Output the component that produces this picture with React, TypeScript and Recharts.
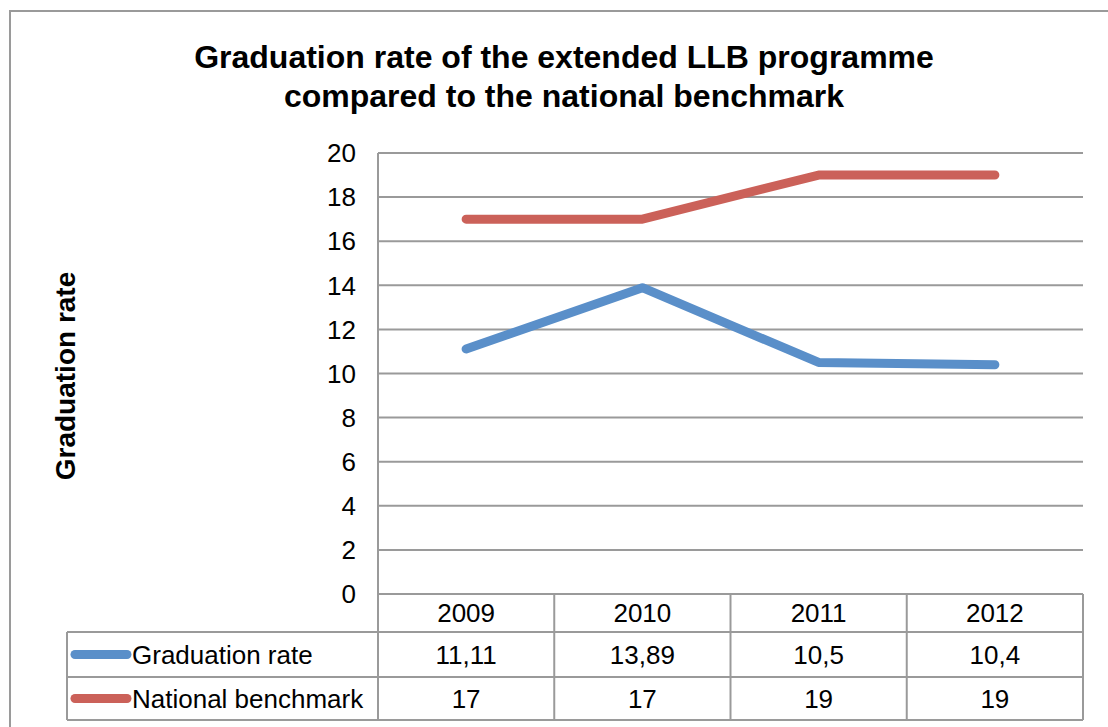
import { LineChart, Line, XAxis, YAxis, CartesianGrid, Customized } from 'recharts';

// values
const YEARS = ['2009', '2010', '2011', '2012'];
const GRADUATION_RATE = [11.11, 13.89, 10.5, 10.4];
const NATIONAL_BENCHMARK = [17, 17, 19, 19];
const GRADUATION_LABELS = ['11,11', '13,89', '10,5', '10,4'];
const BENCHMARK_LABELS = ['17', '17', '19', '19'];
const Y_TICKS = [0, 2, 4, 6, 8, 10, 12, 14, 16, 18, 20];

const SERIES = [
  { key: 'graduation', name: 'Graduation rate', color: '#5A8FC9', labels: GRADUATION_LABELS },
  { key: 'benchmark', name: 'National benchmark', color: '#CB6159', labels: BENCHMARK_LABELS },
];

const data = YEARS.map((year, i) => ({
  year,
  graduation: GRADUATION_RATE[i],
  benchmark: NATIONAL_BENCHMARK[i],
}));

// layout
const W = 1108;
const H = 727;
const PLOT_LEFT = 378;
const PLOT_RIGHT = 1083;
const PLOT_TOP = 153;
const PLOT_BOTTOM = 594;
const ROW1 = 632;
const ROW2 = 677;
const TABLE_BOTTOM = 720;
const TABLE_LEFT = 67;
const GRID = '#9A9A9A';
const FONT = 'Liberation Sans, Arial, sans-serif';
const FS = 26;
const BAND = (PLOT_RIGHT - PLOT_LEFT) / YEARS.length;

const TableTick = (props: any) => {
  const { x, payload, index } = props;
  const right = x + BAND / 2;
  return (
    <g>
      <text x={x} y={613} textAnchor="middle" dominantBaseline="central" fontSize={FS} fontFamily={FONT} fill="#000">
        {payload.value}
      </text>
      {SERIES.map((s, r) => (
        <text
          key={s.key}
          x={x}
          y={r === 0 ? (ROW1 + ROW2) / 2 : (ROW2 + TABLE_BOTTOM) / 2}
          textAnchor="middle"
          dominantBaseline="central"
          fontSize={FS}
          fontFamily={FONT}
          fill="#000"
        >
          {s.labels[index]}
        </text>
      ))}
      <line x1={right} y1={PLOT_BOTTOM} x2={right} y2={TABLE_BOTTOM} stroke={GRID} strokeWidth={2} />
    </g>
  );
};

const Frame = () => (
  <g>
    <rect x={10} y={11} width={W} height={H} fill="none" stroke={GRID} strokeWidth={2} />
    <text x={564} y={68} textAnchor="middle" fontSize={32} fontWeight="bold" fontFamily={FONT} fill="#000">
      Graduation rate of the extended LLB programme
    </text>
    <text x={564} y={107} textAnchor="middle" fontSize={32} fontWeight="bold" fontFamily={FONT} fill="#000">
      compared to the national benchmark
    </text>
    <text
      x={65}
      y={376}
      transform="rotate(-90 65 376)"
      textAnchor="middle"
      dominantBaseline="central"
      fontSize={28}
      fontWeight="bold"
      fontFamily={FONT}
      fill="#000"
    >
      Graduation rate
    </text>
    {/* data table frame */}
    <line x1={PLOT_LEFT} y1={PLOT_BOTTOM} x2={PLOT_LEFT} y2={TABLE_BOTTOM} stroke={GRID} strokeWidth={2} />
    <line x1={TABLE_LEFT} y1={ROW1} x2={PLOT_RIGHT} y2={ROW1} stroke={GRID} strokeWidth={2} />
    <line x1={TABLE_LEFT} y1={ROW2} x2={PLOT_RIGHT} y2={ROW2} stroke={GRID} strokeWidth={2} />
    <line x1={TABLE_LEFT} y1={TABLE_BOTTOM} x2={PLOT_RIGHT} y2={TABLE_BOTTOM} stroke={GRID} strokeWidth={2} />
    <line x1={TABLE_LEFT} y1={ROW1} x2={TABLE_LEFT} y2={TABLE_BOTTOM} stroke={GRID} strokeWidth={2} />
    {SERIES.map((s, r) => {
      const cy = r === 0 ? (ROW1 + ROW2) / 2 : (ROW2 + TABLE_BOTTOM) / 2;
      return (
        <g key={s.key}>
          <line x1={75} y1={cy} x2={127} y2={cy} stroke={s.color} strokeWidth={9} strokeLinecap="round" />
          <text x={132} y={cy} dominantBaseline="central" fontSize={FS} fontFamily={FONT} fill="#000">
            {s.name}
          </text>
        </g>
      );
    })}
  </g>
);

export default function App() {
  return (
    <div style={{ position: 'absolute', left: 0, top: 0, width: W, height: H, background: '#fff' }}>
      <LineChart
        width={W}
        height={H}
        data={data}
        margin={{ top: PLOT_TOP, right: W - PLOT_RIGHT, left: PLOT_LEFT - 40, bottom: 13 }}
      >
        <Customized component={Frame} />
        <CartesianGrid vertical={false} stroke={GRID} strokeWidth={2} />
        <XAxis
          dataKey="year"
          height={H - PLOT_BOTTOM - 13}
          padding={{ left: BAND / 2, right: BAND / 2 }}
          axisLine={{ stroke: GRID, strokeWidth: 2 }}
          tickLine={false}
          tick={<TableTick />}
          interval={0}
        />
        <YAxis
          width={40}
          domain={[0, 20]}
          ticks={Y_TICKS}
          interval={0}
          axisLine={{ stroke: GRID, strokeWidth: 2 }}
          tickLine={false}
          tickMargin={16}
          tick={{ fontSize: FS, fontFamily: FONT, fill: '#000' }}
        />
        {SERIES.map((s) => (
          <Line
            key={s.key}
            type="linear"
            dataKey={s.key}
            name={s.name}
            stroke={s.color}
            strokeWidth={9}
            strokeLinecap="round"
            strokeLinejoin="round"
            dot={false}
            activeDot={false}
            isAnimationActive={false}
          />
        ))}
      </LineChart>
    </div>
  );
}
